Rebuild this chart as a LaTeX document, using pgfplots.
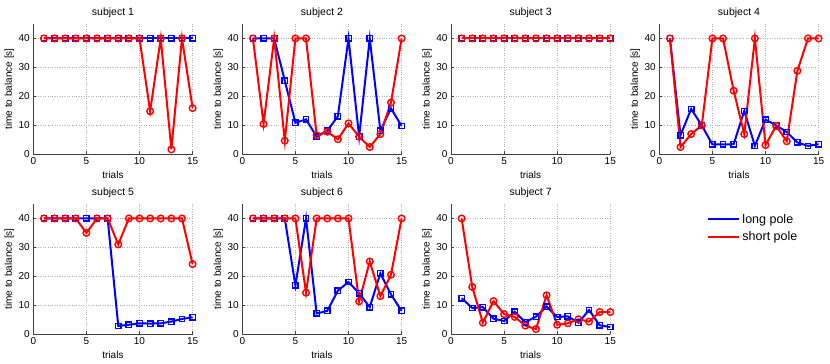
\documentclass[border=0pt]{standalone}
\usepackage{pgfplots}
\pgfplotsset{compat=1.18}
\usepackage{fontspec}
\setmainfont{Liberation Sans}
\definecolor{mblue}{RGB}{0,0,255}
\definecolor{mred}{RGB}{255,0,0}
\pgfplotsset{
  sub/.style={
    scale only axis, width=159.3pt, height=130pt,
    anchor=south west,
    xmin=0, xmax=15, ymin=0, ymax=45,
    xtick={0,5,10,15}, ytick={0,10,20,30,40},
    axis x line*=bottom, axis y line*=left,
    axis line style={-, black!75, line width=0.8pt},
    tick align=inside, major tick length=2.5pt,
    tick style={black!75, line width=0.5pt},
    grid=major, major grid style={dotted, black!30, line width=0.5pt},
    /pgf/number format/assume math mode=true,
    ticklabel style={font=\fontsize{10}{12}\selectfont},
    title style={font=\fontsize{10.5}{12}\selectfont, at={(axis description cs:0.5,1)}, anchor=center, yshift=5pt},
    xlabel={trials}, ylabel={time to balance [s]},
    xlabel style={font=\fontsize{10}{12}\selectfont, at={(axis description cs:0.5,0)}, anchor=center, yshift=-21pt},
    ylabel style={font=\fontsize{10}{12}\selectfont, at={(axis description cs:-0.150,0.5)}, anchor=center},
    clip=false,
  },
  lp/.style={color=mblue, line width=2pt, mark=square, mark size=2.7pt, mark options={line width=1.4pt, solid}},
  sp/.style={color=mred, line width=2pt, mark=o, mark size=3.3pt, mark options={line width=1.4pt, solid}},
}
\begin{document}
\begin{tikzpicture}
\path[use as bounding box] (0pt,0pt) rectangle (830pt,364pt);
% subject 1
\begin{axis}[sub, at={(33.3pt,210pt)}, title={subject 1}]
\addplot[lp] coordinates {(1,40)(2,40)(3,40)(4,40)(5,40)(6,40)(7,40)(8,40)(9,40)(10,40)(11,40)(12,40)(13,40)(14,40)(15,40)};
\addplot[sp] coordinates {(1,40)(2,40)(3,40)(4,40)(5,40)(6,40)(7,40)(8,40)(9,40)(10,40)(11,14.8)(12,40)(13,1.6)(14,40)(15,15.9)};
\end{axis}
% subject 2
\begin{axis}[sub, at={(242.3pt,210pt)}, title={subject 2}]
\addplot[lp] coordinates {(1,40)(2,40)(3,40)(4,25.4)(5,10.8)(6,12.0)(7,6.0)(8,8.0)(9,13.1)(10,40)(11,6.0)(12,40)(13,8.1)(14,15.8)(15,9.7)};
\addplot[sp] coordinates {(1,40)(2,10.4)(3,40)(4,4.6)(5,40)(6,40)(7,6.5)(8,7.7)(9,5.1)(10,10.6)(11,6.0)(12,2.4)(13,6.9)(14,17.8)(15,40)};
\end{axis}
% subject 3
\begin{axis}[sub, at={(451pt,210pt)}, title={subject 3}]
\addplot[lp] coordinates {(1,40)(2,40)(3,40)(4,40)(5,40)(6,40)(7,40)(8,40)(9,40)(10,40)(11,40)(12,40)(13,40)(14,40)(15,40)};
\addplot[sp] coordinates {(1,40)(2,40)(3,40)(4,40)(5,40)(6,40)(7,40)(8,40)(9,40)(10,40)(11,40)(12,40)(13,40)(14,40)(15,40)};
\end{axis}
% subject 4
\begin{axis}[sub, at={(659.3pt,210pt)}, title={subject 4}]
\addplot[lp] coordinates {(1,40)(2,6.5)(3,15.6)(4,9.9)(5,3.3)(6,3.3)(7,3.4)(8,14.9)(9,2.8)(10,11.9)(11,9.9)(12,7.6)(13,4.0)(14,2.8)(15,3.4)};
\addplot[sp] coordinates {(1,40)(2,2.4)(3,6.9)(4,9.9)(5,40)(6,40)(7,21.9)(8,6.9)(9,40)(10,3.1)(11,9.7)(12,4.4)(13,28.8)(14,40)(15,40)};
\end{axis}
% subject 5
\begin{axis}[sub, at={(33.3pt,30pt)}, title={subject 5}]
\addplot[lp] coordinates {(1,40)(2,40)(3,40)(4,40)(5,40)(6,40)(7,40)(8,2.8)(9,3.2)(10,3.7)(11,3.6)(12,3.7)(13,4.3)(14,5.2)(15,5.8)};
\addplot[sp] coordinates {(1,40)(2,40)(3,40)(4,40)(5,35.0)(6,40)(7,40)(8,31.0)(9,40)(10,40)(11,40)(12,40)(13,40)(14,40)(15,24.2)};
\end{axis}
% subject 6
\begin{axis}[sub, at={(242.3pt,30pt)}, title={subject 6}]
\addplot[lp] coordinates {(1,40)(2,40)(3,40)(4,40)(5,16.8)(6,40)(7,7.1)(8,8.0)(9,15.0)(10,18.0)(11,14.1)(12,9.3)(13,21.0)(14,13.7)(15,8.0)};
\addplot[sp] coordinates {(1,40)(2,40)(3,40)(4,40)(5,40)(6,14.3)(7,40)(8,40)(9,40)(10,40)(11,11.3)(12,25.1)(13,13.1)(14,20.5)(15,40)};
\end{axis}
% subject 7
\begin{axis}[sub, at={(451pt,30pt)}, title={subject 7},
  legend style={at={(axis description cs:1.59,0.955)}, anchor=north west, draw=none, fill=none,
    font=\fontsize{12.5}{14}\selectfont, cells={anchor=west}, row sep=3pt},
  legend image code/.code={\draw[#1, mark=none, line width=2pt] (0pt,0pt) -- (31pt,0pt);},
]
\addplot[lp] coordinates {(1,12.4)(2,9.0)(3,9.3)(4,5.3)(5,4.5)(6,7.7)(7,4.1)(8,6.0)(9,9.5)(10,5.9)(11,6.1)(12,3.9)(13,8.3)(14,3.0)(15,2.4)};
\addlegendentry{long pole}
\addplot[sp] coordinates {(1,40)(2,16.3)(3,3.9)(4,11.4)(5,6.9)(6,5.9)(7,2.9)(8,1.7)(9,13.4)(10,3.2)(11,3.7)(12,5.1)(13,4.3)(14,7.6)(15,7.6)};
\addlegendentry{short pole}
\end{axis}
\end{tikzpicture}
\end{document}
